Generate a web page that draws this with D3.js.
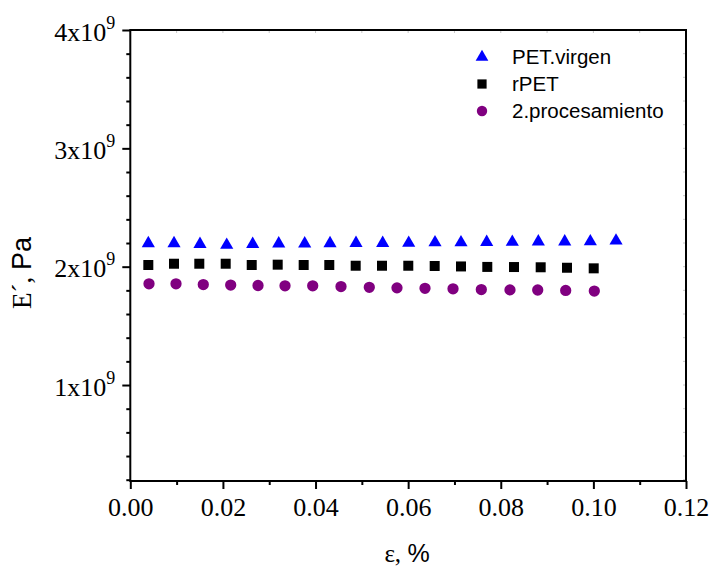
<!DOCTYPE html>
<html><head><meta charset="utf-8">
<script src="https://cdn.jsdelivr.net/npm/d3@7"></script>
<style>body{margin:0;background:#fff}svg{display:block}</style>
</head><body>
<svg id="c" width="712" height="567"></svg>
<script>
// ---- data ----
const seriesNames = ["PET.virgen", "rPET", "2.procesamiento"];
const virgenX = [0.00389,0.00944,0.01505,0.02082,0.02643,0.03205,0.03766,0.04313,0.04874,0.05450,0.06012,0.06580,0.07141,0.07696,0.08249,0.08811,0.09381,0.09934,0.10489];
const virgenE = [2.197,2.197,2.190,2.183,2.190,2.195,2.195,2.197,2.199,2.199,2.200,2.204,2.204,2.207,2.208,2.211,2.212,2.213,2.219];
const rpetX = [0.00389,0.00944,0.01490,0.02060,0.02622,0.03183,0.03744,0.04297,0.04867,0.05435,0.06003,0.06573,0.07141,0.07709,0.08286,0.08862,0.09430,0.10007];
const rpetE = [2.014,2.025,2.025,2.025,2.014,2.017,2.014,2.014,2.008,2.008,2.008,2.006,2.002,1.998,1.997,1.995,1.991,1.986];
const procX = [0.00404,0.00987,0.01576,0.02168,0.02758,0.03341,0.03939,0.04550,0.05161,0.05759,0.06364,0.06969,0.07580,0.08199,0.08798,0.09402,0.10020];
const procE = [1.855,1.855,1.849,1.845,1.841,1.838,1.838,1.832,1.826,1.821,1.817,1.813,1.807,1.804,1.803,1.799,1.794];
const xTicks = [0.00,0.02,0.04,0.06,0.08,0.10,0.12];
const xMinor = [0.01,0.03,0.05,0.07,0.09,0.11];
const yTicks = [1,2,3,4]; // x10^9
const yMinor = [0.2,0.4,0.6,0.8,1.2,1.4,1.6,1.8,2.2,2.4,2.6,2.8,3.2,3.4,3.6,3.8];

const svg = d3.select("#c");
const L = 130.3, R = 686, T = 30, B = 481;
const x = d3.scaleLinear().domain([0, 0.12]).range([L, R]);
const y = d3.scaleLinear().domain([0.189, 4]).range([B, T]);

// faint top/right ticks
const faint = svg.append("g").attr("stroke", "#c8c8c8").attr("stroke-width", 1);
xTicks.concat(xMinor).forEach(v => faint.append("line").attr("x1", x(v)).attr("x2", x(v)).attr("y1", T).attr("y2", T + 3));
yTicks.concat(yMinor).forEach(v => faint.append("line").attr("x1", R).attr("x2", R - 3).attr("y1", y(v)).attr("y2", y(v)));

// frame
svg.append("rect").attr("x", L).attr("y", T).attr("width", R - L).attr("height", B - T)
  .attr("fill", "none").attr("stroke", "#000").attr("stroke-width", 2);

// bottom axis
const xa = svg.append("g").attr("transform", `translate(0,${B})`)
  .call(d3.axisBottom(x).tickValues(xTicks).tickSize(8).tickSizeOuter(0).tickFormat(d3.format(".2f")));
xa.select(".domain").remove();
xa.selectAll(".tick line").attr("stroke-width", 2);
xa.selectAll(".tick text").attr("font-family", "Liberation Serif, Times New Roman, serif").attr("font-size", 26).attr("dy", "0.92em").attr("fill", "#000");
const xm = svg.append("g").attr("transform", `translate(0,${B})`)
  .call(d3.axisBottom(x).tickValues(xMinor).tickSize(4).tickFormat(""));
xm.select(".domain").remove();
xm.selectAll(".tick line").attr("stroke-width", 2);

// left axis
const ya = svg.append("g").attr("transform", `translate(${L},0)`)
  .call(d3.axisLeft(y).tickValues(yTicks).tickSize(8).tickSizeOuter(0).tickFormat(""));
ya.select(".domain").remove();
ya.selectAll(".tick line").attr("stroke-width", 2);
ya.selectAll(".tick").each(function(d) {
  const t = d3.select(this).append("text").attr("x", -15).attr("y", 10)
    .attr("text-anchor", "end").attr("fill", "#000")
    .attr("font-family", "Liberation Serif, Times New Roman, serif").attr("font-size", 26);
  t.append("tspan").text(d + "x10");
  t.append("tspan").attr("font-size", 18).attr("dy", -12).text("9");
});
const ym = svg.append("g").attr("transform", `translate(${L},0)`)
  .call(d3.axisLeft(y).tickValues(yMinor).tickSize(4).tickFormat(""));
ym.select(".domain").remove();
ym.selectAll(".tick line").attr("stroke-width", 2);

// axis titles
const yt = svg.append("text").attr("transform", "translate(31,273) rotate(-90)")
  .attr("text-anchor", "middle").attr("font-size", 27).attr("fill", "#000");
yt.append("tspan").attr("font-family", "Liberation Serif, Times New Roman, serif").text("E´, ");
yt.append("tspan").attr("font-family", "Liberation Sans, Arial, sans-serif").text("Pa");
const xt = svg.append("text").attr("x", 407).attr("y", 562)
  .attr("text-anchor", "middle").attr("font-size", 25).attr("fill", "#000");
xt.append("tspan").attr("font-family", "Liberation Serif, Times New Roman, serif").text("ε, ");
xt.append("tspan").attr("font-family", "Liberation Sans, Arial, sans-serif").text("%");

// series
const series = [
  {name: seriesNames[0], xs: virgenX, ys: virgenE, color: "#0000ff", sym: d3.symbolTriangle, size: 75},
  {name: seriesNames[1], xs: rpetX, ys: rpetE, color: "#000000", sym: d3.symbolSquare, size: 100},
  {name: seriesNames[2], xs: procX, ys: procE, color: "#800080", sym: d3.symbolCircle, size: 100}
];
series.forEach(s => {
  svg.append("g").selectAll("path").data(s.xs.map((v, i) => [v, s.ys[i]])).join("path")
    .attr("transform", d => `translate(${x(d[0])},${y(d[1])})`)
    .attr("d", d3.symbol(s.sym, s.size)).attr("fill", s.color);
});

// legend
const lg = svg.append("g");
series.forEach((s, i) => {
  const cy = 57 + i * 27;
  lg.append("path").attr("transform", `translate(482,${cy})`)
    .attr("d", d3.symbol(s.sym, i === 0 ? 70 : 85)).attr("fill", s.color);
  lg.append("text").attr("x", 512).attr("y", cy + 7).attr("font-family", "Liberation Sans, Arial, sans-serif")
    .attr("font-size", 20.5).attr("fill", "#000").text(s.name);
});
</script>
</body></html>
